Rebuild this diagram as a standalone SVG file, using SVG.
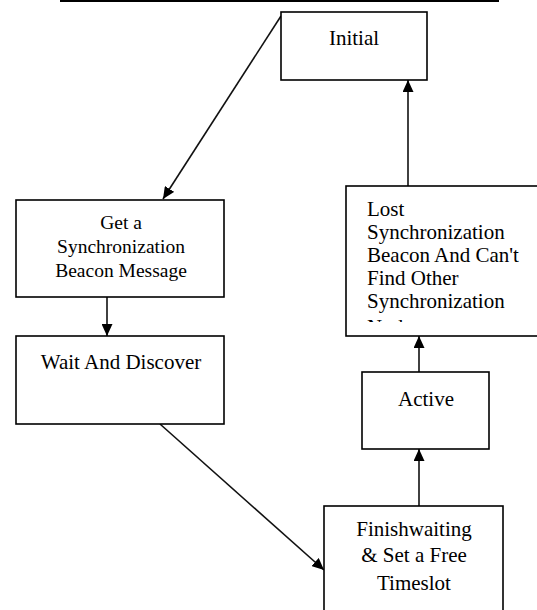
<svg xmlns="http://www.w3.org/2000/svg" width="537" height="610" viewBox="0 0 537 610">
<style>
.box{fill:#fff;stroke:#000;stroke-width:1.6}
.t{font-family:"Liberation Serif","Times New Roman",serif;font-size:21px;fill:#000}
.c{text-anchor:middle}
.s{font-size:19.5px}
.e{fill:none;stroke:#111;stroke-width:1.6}
</style>
<defs>
<marker id="ah" markerUnits="userSpaceOnUse" markerWidth="13" markerHeight="11" refX="12" refY="5.5" orient="auto">
<path d="M0,0 L12,5.5 L0,11 z" fill="#000"/>
</marker>
<clipPath id="lc"><rect x="346" y="186" width="200" height="136"/></clipPath>
</defs>
<line x1="60" y1="1" x2="499" y2="1" stroke="#000" stroke-width="2"/>
<g id="connectors">
<line class="e" x1="281" y1="16" x2="163" y2="199" marker-end="url(#ah)"/>
<line class="e" x1="107" y1="297" x2="107" y2="336" marker-end="url(#ah)"/>
<line class="e" x1="160" y1="424" x2="324" y2="570" marker-end="url(#ah)"/>
<line class="e" x1="419" y1="506" x2="419" y2="449" marker-end="url(#ah)"/>
<line class="e" x1="419" y1="372" x2="419" y2="336" marker-end="url(#ah)"/>
<line class="e" x1="408" y1="186" x2="408" y2="80" marker-end="url(#ah)"/>
</g>
<g id="initial">
<rect class="box" x="281" y="12" width="146" height="68"/>
<text class="t c" x="354" y="45">Initial</text>
</g>
<g id="get-beacon">
<rect class="box" x="16" y="200" width="208" height="97"/>
<text class="t c s" x="121" y="229">Get a</text>
<text class="t c s" x="121" y="253">Synchronization</text>
<text class="t c s" x="121" y="277">Beacon Message</text>
</g>
<g id="wait">
<rect class="box" x="16" y="336" width="208" height="88"/>
<text class="t c" x="121" y="369">Wait And Discover</text>
</g>
<g id="lost">
<rect class="box" x="346" y="186" width="200" height="150"/>
<g clip-path="url(#lc)">
<text class="t" x="367" y="216">Lost</text>
<text class="t" x="367" y="239">Synchronization</text>
<text class="t" x="367" y="262">Beacon And Can't</text>
<text class="t" x="367" y="285">Find Other</text>
<text class="t" x="367" y="308">Synchronization</text>
<text class="t" x="367" y="334">Nodes</text>
</g>
</g>
<g id="active">
<rect class="box" x="362" y="372" width="127" height="77"/>
<text class="t c" x="426" y="406">Active</text>
</g>
<g id="finish">
<rect class="box" x="324" y="506" width="179" height="110"/>
<text class="t c" x="414" y="536">Finishwaiting</text>
<text class="t c" x="414" y="562">&amp; Set a Free</text>
<text class="t c" x="414" y="590">Timeslot</text>
</g>
</svg>
